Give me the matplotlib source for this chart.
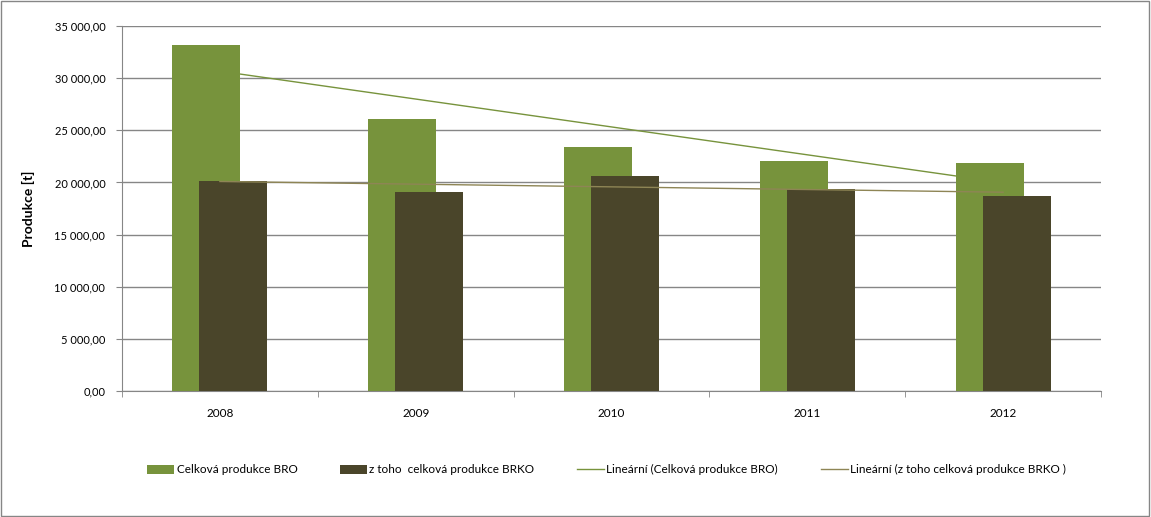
import numpy as np
import matplotlib
matplotlib.use('Agg')
import matplotlib.pyplot as plt
from matplotlib.ticker import FuncFormatter, FixedLocator
from matplotlib.patches import Rectangle

years = ['2008', '2009', '2010', '2011', '2012']
bro = [33200, 26100, 23400, 22050, 21860]
brko = [20130, 19080, 20600, 19370, 18700]
yticks = [0, 5000, 10000, 15000, 20000, 25000, 30000, 35000]

c_bro = '#77933C'
c_brko = '#4A452A'
c_tr_bro = '#77933C'
c_tr_brko = '#8E8555'
grid_c = '#868686'

plt.rcParams['font.family'] = ['Lato', 'DejaVu Sans']
plt.rcParams['font.size'] = 8

@FuncFormatter
def cz(x, pos):
    s = '{:,.2f}'.format(x)
    return s.replace(',', ' ').replace('.', ',')

fig = plt.figure(figsize=(11.51, 5.17), dpi=100)
ax = fig.add_axes([122/1151, 1-391/517, 979/1151, 365/517])
fig.patches.append(Rectangle((0.0005, 0.001), 0.998, 0.997, transform=fig.transFigure,
                             fill=False, edgecolor=grid_c, lw=1))

x = np.arange(len(years))
w = 0.347
off = 0.069
b1 = ax.bar(x - off, bro, w, color=c_bro, zorder=3)
b2 = ax.bar(x + off, brko, w, color=c_brko, zorder=4)

# linear trends (like Excel "Lineární")
k1 = np.polyfit(x, bro, 1)
k2 = np.polyfit(x, brko, 1)
l1, = ax.plot(x, np.polyval(k1, x), color=c_tr_bro, lw=1, zorder=2)
l2, = ax.plot(x, np.polyval(k2, x), color=c_tr_brko, lw=1, zorder=5)

ax.set_xlim(-0.5, 4.5)
ax.set_ylim(0, 35000)
ax.set_yticks(yticks)
ax.yaxis.set_major_formatter(cz)
ax.yaxis.grid(True, color=grid_c, lw=1, zorder=1)
ax.set_axisbelow(True)
ax.set_xticks(x)
ax.set_xticklabels(years, fontsize=8.5)
ax.xaxis.set_minor_locator(FixedLocator(np.arange(-0.5, 5, 1)))
ax.tick_params(axis='x', which='major', length=0, pad=12)
ax.tick_params(axis='x', which='minor', length=4, color=grid_c)
ax.tick_params(axis='y', length=4, color=grid_c, pad=8)
for s in ['top', 'right']:
    ax.spines[s].set_visible(False)
for s in ['left', 'bottom']:
    ax.spines[s].set_color(grid_c)
ax.set_ylabel('Produkce [t]', fontweight='bold', fontsize=10, labelpad=14)

fig.legend([b1, b2, l1, l2],
           ['Celková produkce BRO', 'z toho  celková produkce BRKO',
            'Lineární (Celková produkce BRO)', 'Lineární (z toho celková produkce BRKO )'],
           loc='center', bbox_to_anchor=(0.527, 0.091), ncol=4, frameon=False, fontsize=8.5,
           handlelength=2.3, handletextpad=0.2, columnspacing=3.6, handleheight=0.8)

fig.savefig('out.png', dpi=100)
